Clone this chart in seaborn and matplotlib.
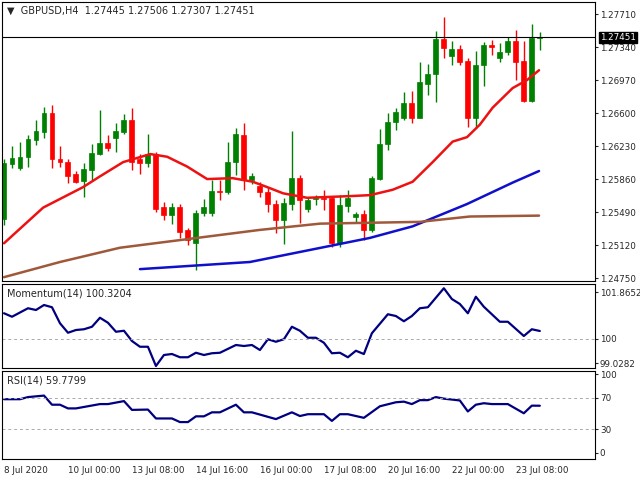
import numpy as np
import pandas as pd
import matplotlib
matplotlib.use("Agg")
import matplotlib.pyplot as plt
import seaborn as sns

# GBPUSD H4 candles, index 0..67
opens = [1.2541, 1.2603, 1.2598, 1.2611, 1.2630, 1.2639, 1.2660, 1.2609, 1.2605, 1.2592,
         1.2584, 1.2596, 1.2614, 1.2626, 1.2632, 1.2639, 1.2652, 1.2608, 1.2604, 1.2614,
         1.2555, 1.2546, 1.2555, 1.2529, 1.2514, 1.2548, 1.2548, 1.2573, 1.2571, 1.2605,
         1.2635, 1.2585, 1.2578, 1.2572, 1.2558, 1.2540, 1.2558, 1.2587, 1.2552, 1.2564,
         1.2565, 1.2565, 1.2514, 1.2556, 1.2544, 1.2547, 1.2529, 1.2586, 1.2625, 1.2650,
         1.2655, 1.2671, 1.2654, 1.2693, 1.2704, 1.2743, 1.2724, 1.2732, 1.2718, 1.2654,
         1.2714, 1.2736, 1.2722, 1.2728, 1.2741, 1.2718, 1.2674, 1.27445]
highs = [1.2608, 1.2623, 1.2627, 1.2635, 1.2652, 1.2667, 1.2669, 1.2623, 1.2609, 1.2595,
         1.2604, 1.2625, 1.2663, 1.2635, 1.2649, 1.2659, 1.2666, 1.2614, 1.2637, 1.2616,
         1.2560, 1.2559, 1.2558, 1.2531, 1.2551, 1.2564, 1.2585, 1.2585, 1.2627, 1.2643,
         1.2649, 1.2593, 1.2583, 1.2577, 1.2562, 1.2565, 1.2640, 1.2590, 1.2566, 1.2568,
         1.2574, 1.2567, 1.2568, 1.2574, 1.2549, 1.2551, 1.2589, 1.2642, 1.2660, 1.2666,
         1.2684, 1.2685, 1.2717, 1.2715, 1.2752, 1.2768, 1.2741, 1.2736, 1.2722, 1.2730,
         1.2740, 1.2742, 1.2738, 1.2745, 1.2753, 1.2741, 1.2760, 1.27506]
lows = [1.2535, 1.2598, 1.2596, 1.2600, 1.2624, 1.2632, 1.2598, 1.2600, 1.2582, 1.2582,
        1.2566, 1.2585, 1.2613, 1.2617, 1.2616, 1.2637, 1.2596, 1.2592, 1.2600, 1.2549,
        1.2540, 1.2536, 1.2520, 1.2512, 1.2484, 1.2545, 1.2545, 1.2563, 1.2569, 1.2591,
        1.2574, 1.2580, 1.2566, 1.2549, 1.2526, 1.2513, 1.2551, 1.2537, 1.2549, 1.2557,
        1.2551, 1.2510, 1.2510, 1.2549, 1.2538, 1.2518, 1.2527, 1.2585, 1.2619, 1.2641,
        1.2652, 1.2649, 1.2654, 1.2680, 1.2672, 1.2722, 1.2714, 1.2714, 1.2644, 1.2643,
        1.2690, 1.2725, 1.2717, 1.2725, 1.2697, 1.2672, 1.2672, 1.27307]
closes = [1.2604, 1.2610, 1.2611, 1.2631, 1.2640, 1.2660, 1.2608, 1.2605, 1.2589, 1.2583,
          1.2597, 1.2615, 1.2626, 1.2621, 1.2640, 1.2652, 1.2605, 1.2604, 1.2614, 1.2552,
          1.2546, 1.2555, 1.2527, 1.2518, 1.2548, 1.2555, 1.2573, 1.2571, 1.2605, 1.2636,
          1.2585, 1.2589, 1.2572, 1.2558, 1.2540, 1.2559, 1.2587, 1.2562, 1.2562, 1.2564,
          1.2564, 1.2514, 1.2557, 1.2565, 1.2547, 1.2529, 1.2587, 1.2625, 1.2650, 1.2661,
          1.2671, 1.2654, 1.2695, 1.2704, 1.2743, 1.2733, 1.2732, 1.2717, 1.2654, 1.2714,
          1.2736, 1.2734, 1.2728, 1.2741, 1.2717, 1.2674, 1.2744, 1.27451]

# moving averages (candle index, price)
ma_red_idx = [0, 4.9, 9.9, 12, 14.9, 18.3, 20.4, 22.9, 25.4, 28.6, 31.1, 32.9, 34.9, 37.9,
              43.6, 45.8, 48.6, 51.1, 53.6, 56.1, 57.9, 59.5, 61.1, 63.6, 65.4, 66.9]
ma_red = [1.2514, 1.2554, 1.2577, 1.2589, 1.2605, 1.2614, 1.2611, 1.2600, 1.2586, 1.2587,
          1.2583, 1.2577, 1.2570, 1.2565, 1.2567, 1.2568, 1.2574, 1.2583, 1.2605, 1.2628,
          1.2633, 1.2647, 1.2666, 1.2688, 1.2697, 1.2708]
ma_blue_idx = [17, 30.75, 40.75, 45.75, 51.1, 57.9, 63.6, 66.9]
ma_blue = [1.2485, 1.2493, 1.2511, 1.2520, 1.2533, 1.2558, 1.2582, 1.2595]
ma_brown_idx = [0, 7, 14.5, 23.25, 32, 39.5, 52, 58.25, 66.9]
ma_brown = [1.2476, 1.2493, 1.2509, 1.2519, 1.2529, 1.2536, 1.2538, 1.2544, 1.2545]

mom_idx = [0, 1, 3, 4, 5, 6, 7, 8, 9, 10, 11, 12, 13, 14, 15, 16, 17, 18, 19, 20, 21, 22, 23,
           24, 25, 26, 27, 29, 30, 31, 32, 33, 34, 35, 36, 37, 38, 39, 40, 41, 42, 43, 44, 45,
           46, 48, 49, 50, 51, 52, 53, 55, 56, 57, 58, 59, 60, 62, 63, 65, 66, 67]
mom = [101.03, 100.89, 101.23, 101.16, 101.36, 101.27, 100.63, 100.25, 100.36, 100.39, 100.49,
       100.85, 100.65, 100.29, 100.33, 99.92, 99.69, 99.69, 98.92, 99.36, 99.40, 99.27, 99.27,
       99.45, 99.36, 99.43, 99.45, 99.76, 99.72, 99.76, 99.56, 99.99, 99.89, 99.99, 100.49,
       100.33, 100.05, 100.05, 99.85, 99.43, 99.45, 99.27, 99.53, 99.40, 100.23, 100.99, 100.92,
       100.71, 100.92, 101.23, 101.27, 102.03, 101.60, 101.40, 101.03, 101.69, 101.29, 100.69,
       100.69, 100.12, 100.39, 100.32]

rsi_idx = [0, 2, 3, 5, 6, 7, 8, 9, 12, 13, 15, 16, 18, 19, 21, 22, 23, 24, 25, 26, 27, 29, 30,
           31, 34, 36, 37, 38, 40, 41, 42, 43, 45, 47, 49, 50, 51, 52, 53, 54, 55, 57, 58, 59,
           60, 61, 63, 65, 66, 67]
rsi = [68.1, 68.1, 70.8, 72.7, 61.1, 61.1, 56.4, 56.4, 61.9, 61.9, 65.7, 54.5, 54.9, 43.6,
       43.6, 39.0, 39.0, 46.3, 46.3, 51.4, 51.4, 61.1, 51.4, 51.4, 42.8, 51.4, 46.7, 49.0, 49.0,
       40.5, 49.0, 49.0, 44.4, 59.1, 64.2, 65.0, 61.9, 66.9, 66.9, 70.8, 68.8, 66.5, 52.5, 61.1,
       63.0, 61.9, 61.9, 50.2, 59.9, 59.8]

price_ticks = [1.27710, 1.27340, 1.26970, 1.26600, 1.26230, 1.25860, 1.25490, 1.25120, 1.24750]
date_ticks = [0, 8, 16, 24, 32, 40, 48, 56, 64]
date_labels = ["8 Jul 2020", "10 Jul 00:00", "13 Jul 08:00", "14 Jul 16:00", "16 Jul 00:00",
               "17 Jul 08:00", "20 Jul 16:00", "22 Jul 00:00", "23 Jul 08:00"]

sns.set_style("white")
plt.rcParams['font.family'] = ['DejaVu Sans']
green, red = "#008000", "#ff0000"
fs = 6.3

fig = plt.figure(figsize=(6.4, 4.8), dpi=100)
W, H = 640, 480
def box(top, bottom):
    return [2 / W, (H - bottom) / H, 593 / W, (bottom - top) / H]

ax = fig.add_axes(box(2, 281))
ax_m = fig.add_axes(box(284, 368))
ax_r = fig.add_axes(box(371, 459))
xlim = (-0.25, 73.9)

# candles
df = pd.DataFrame({"o": opens, "h": highs, "l": lows, "c": closes})
df["i"] = np.arange(len(df))
df["col"] = np.where(df.c >= df.o, green, red)
ax.vlines(df.i, df.l, df.h, colors=df.col, lw=1)
body = (df.c - df.o).abs().clip(lower=0.00004)
ax.bar(df.i, body, bottom=df[["o", "c"]].min(axis=1), width=0.62, color=df.col, edgecolor=df.col, lw=0.5)

sns.lineplot(x=ma_red_idx, y=ma_red, ax=ax, color="#ee1111", lw=1.8)
sns.lineplot(x=ma_blue_idx, y=ma_blue, ax=ax, color="#1010cc", lw=1.8)
sns.lineplot(x=ma_brown_idx, y=ma_brown, ax=ax, color="#a0583a", lw=1.8)

ax.axhline(closes[-1], color="black", lw=0.8)
ax.set_xlim(*xlim)
ax.set_ylim(1.24717, 1.27845)
ax.yaxis.tick_right()
ax.set_yticks(price_ticks)
ax.set_yticklabels([f"{t:.5f}" for t in price_ticks])
ax.text(1.008, closes[-1], f"{closes[-1]:.5f}", transform=ax.get_yaxis_transform(),
        va="center", ha="left", fontsize=fs, color="white",
        bbox=dict(boxstyle="square,pad=0.12", fc="black", ec="black"))
ax.text(0.008, 0.985, "\u25bc  GBPUSD,H4  1.27445 1.27506 1.27307 1.27451", transform=ax.transAxes,
        va="top", ha="left", fontsize=7)

# momentum
sns.lineplot(x=mom_idx, y=mom, ax=ax_m, color="#000080", lw=1.6)
ax_m.axhline(100, color="#aaaaaa", lw=0.7, ls=(0, (3, 3)))
ax_m.set_xlim(*xlim)
ax_m.set_ylim(98.84, 102.20)
ax_m.yaxis.tick_right()
ax_m.set_yticks([101.8652, 100, 99.0282])
ax_m.set_yticklabels(["101.8652", "100", "99.0282"])
ax_m.text(0.008, 0.95, "Momentum(14) 100.3204", transform=ax_m.transAxes, va="top", fontsize=7)

# RSI
sns.lineplot(x=rsi_idx, y=rsi, ax=ax_r, color="#000080", lw=1.6)
for lvl in (70, 30):
    ax_r.axhline(lvl, color="#aaaaaa", lw=0.7, ls=(0, (3, 3)))
ax_r.set_xlim(*xlim)
ax_r.set_ylim(-8, 104)
ax_r.yaxis.tick_right()
ax_r.set_yticks([100, 70, 30, 0])
ax_r.text(0.008, 0.95, "RSI(14) 59.7799", transform=ax_r.transAxes, va="top", fontsize=7)

for a in (ax, ax_m, ax_r):
    a.tick_params(axis="y", labelsize=fs, length=2, pad=1.5)
    a.set_xticks([])
    for s in a.spines.values():
        s.set_color("black")
        s.set_linewidth(0.8)

ax_r.set_xticks(date_ticks)
ax_r.set_xticklabels(date_labels, fontsize=fs, ha="left")
ax_r.tick_params(axis="x", length=3, pad=2)

fig.savefig("out.png", dpi=100)
